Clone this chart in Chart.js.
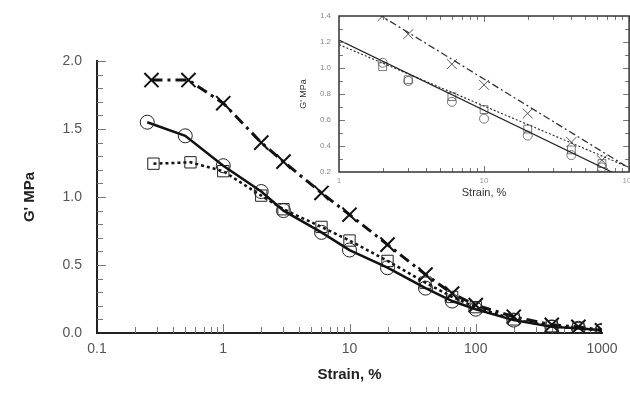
<!DOCTYPE html>
<html><head><meta charset="utf-8">
<script src="https://cdn.jsdelivr.net/npm/chart.js@4/dist/chart.umd.min.js"></script>
<style>
html,body{margin:0;padding:0;background:#fff;}
#wrap{position:relative;width:630px;height:396px;overflow:hidden;}
#main{position:absolute;left:0;top:0;}
#inset{position:absolute;left:290px;top:0;}
</style></head><body>
<div id="wrap">
<canvas id="main" width="630" height="396"></canvas>
<canvas id="inset" width="347" height="210"></canvas>
</div>
<script>
// ---- data ----
const strainCircle = [0.25,0.5,1,2,3,6,10,20,40,65,100,200,400,650,1000];
const gCircle      = [1.55,1.45,1.23,1.04,0.90,0.74,0.61,0.48,0.33,0.235,0.175,0.095,0.045,0.035,0.02];
const strainSquare = [0.28,0.55,1,2,3,6,10,20,40,65,100,200,400,650,1000];
const gSquare      = [1.245,1.255,1.19,1.01,0.91,0.78,0.68,0.53,0.37,0.265,0.19,0.10,0.05,0.035,0.02];
const strainCross  = [0.27,0.53,1,2,3,6,10,20,40,65,100,200,400,650,1000];
const gCross       = [1.86,1.86,1.69,1.40,1.26,1.03,0.87,0.65,0.43,0.29,0.205,0.12,0.06,0.045,0.02];
const xTickValues  = [0.1,1,10,100,1000];
const yTickValues  = [0,0.5,1.0,1.5,2.0];
// inset (linear fits vs log strain)
const insetXTicks  = [1,10,100];
const insetYTicks  = [0.2,0.4,0.6,0.8,1.0,1.2,1.4];
const fitStrain    = [1,100];
const fitCircle    = [1.215,0.135];
const fitSquare    = [1.18,0.235];
const fitCross     = [1.60,0.23];

const FONT = "'Liberation Sans', Arial, sans-serif";
Chart.defaults.font.family = FONT;
const pts = (xs, ys) => xs.map((x,i)=>({x:x, y:ys[i]}));

const mainTicks = {
  id:'mainTicks',
  beforeDatasetsDraw(chart){
    const {ctx, scales:{x,y}, chartArea:a} = chart;
    ctx.save(); ctx.strokeStyle='#777'; ctx.lineWidth=1; ctx.beginPath();
    for (let i=1;i<=20;i++){
      const py=Math.round(y.getPixelForValue(i/10))+0.5;
      const len=(i%5===0)?9:6;
      ctx.moveTo(a.left, py); ctx.lineTo(a.left+len, py);
    }
    for (let d=-1; d<3; d++){
      for (let m=1;m<=9;m++){
        const v=m*Math.pow(10,d);
        if (v<=0.1) continue;
        const px=Math.round(x.getPixelForValue(v))+0.5;
        const len=m===1?9:6;
        ctx.moveTo(px,a.bottom); ctx.lineTo(px,a.bottom-len);
      }
    }
    ctx.stroke(); ctx.restore();
  }
};

new Chart(document.getElementById('main'), {
  type:'line',
  data:{datasets:[
    {data:pts(strainCircle,gCircle), borderColor:'#111', borderWidth:2.5, tension:0,
     pointStyle:'circle', pointRadius:7, pointBorderWidth:1, pointBorderColor:'#222', pointBackgroundColor:'rgba(0,0,0,0)'},
    {data:pts(strainSquare,gSquare), borderColor:'#111', borderWidth:2.5, borderDash:[3,3], tension:0,
     pointStyle:'rect', pointRadius:8, pointBorderWidth:1, pointBorderColor:'#222', pointBackgroundColor:'rgba(0,0,0,0)'},
    {data:pts(strainCross,gCross), borderColor:'#111', borderWidth:3, borderDash:[11,5,3,5], tension:0,
     pointStyle:'crossRot', pointRadius:10, pointBorderWidth:2, pointBorderColor:'#111'}
  ]},
  options:{
    responsive:false, animation:false,
    layout:{padding:{top:61,right:28,left:0,bottom:0}},
    plugins:{legend:{display:false}, tooltip:{enabled:false}},
    scales:{
      x:{type:'logarithmic', min:0.1, max:1000,
         afterBuildTicks:s=>{s.ticks=xTickValues.map(v=>({value:v}));},
         afterFit:s=>{s.height=63;},
         grid:{display:false, drawTicks:false},
         border:{display:true, color:'#222', width:2},
         ticks:{callback:v=>String(v), autoSkip:false, maxRotation:0, padding:8, color:'#555', font:{size:14}},
         title:{display:true, text:'Strain, %', color:'#222', font:{size:15, weight:'bold'}, padding:{top:0,bottom:12}}},
      y:{min:0, max:2,
         afterBuildTicks:s=>{s.ticks=yTickValues.map(v=>({value:v}));},
         afterFit:s=>{s.width=97;},
         grid:{display:false, drawTicks:false},
         border:{display:true, color:'#222', width:2},
         ticks:{callback:v=>Number(v).toFixed(1), padding:15, color:'#555', font:{size:14}},
         title:{display:true, text:"G' MPa", color:'#222', font:{size:15, weight:'bold'}, padding:{top:21,bottom:0}}}
    }
  },
  plugins:[mainTicks]
});

const insetDeco = {
  id:'insetDeco',
  beforeDraw(chart){
    const {ctx, chartArea:a} = chart;
    ctx.save(); ctx.fillStyle='#fff'; ctx.fillRect(a.left,a.top,a.right-a.left,a.bottom-a.top); ctx.restore();
  },
  afterDraw(chart){
    const {ctx, scales:{x,y}, chartArea:a} = chart;
    ctx.save();
    ctx.strokeStyle='#777'; ctx.lineWidth=1; ctx.beginPath();
    for (let i=3;i<=13;i++){
      const py=Math.round(y.getPixelForValue(i/10))+0.5;
      const len=(i%2===0)?6:4;
      ctx.moveTo(a.left,py); ctx.lineTo(a.left+len,py);
      ctx.moveTo(a.right,py); ctx.lineTo(a.right-len,py);
    }
    for (let d=0; d<2; d++){
      for (let m=2;m<=10;m++){
        const v=m*Math.pow(10,d);
        const px=Math.round(x.getPixelForValue(v))+0.5;
        const len=m===10?6:4;
        ctx.moveTo(px,a.bottom); ctx.lineTo(px,a.bottom-len);
        ctx.moveTo(px,a.top); ctx.lineTo(px,a.top+len);
      }
    }
    ctx.stroke();
    ctx.strokeStyle='#333'; ctx.lineWidth=1.5;
    ctx.strokeRect(a.left,a.top,a.right-a.left,a.bottom-a.top);
    ctx.restore();
  }
};

const inRange = p => p.x>1.5 && p.x<=70;
new Chart(document.getElementById('inset'), {
  type:'line',
  data:{datasets:[
    {data:pts(fitStrain,fitCircle), borderColor:'#222', borderWidth:1.2, pointRadius:0},
    {data:pts(fitStrain,fitSquare), borderColor:'#333', borderWidth:1.2, borderDash:[2,2], pointRadius:0},
    {data:pts(fitStrain,fitCross), borderColor:'#333', borderWidth:1.3, borderDash:[7,3,2,3], pointRadius:0},
    {data:pts(strainCircle,gCircle).filter(inRange), showLine:false, pointStyle:'circle', pointRadius:4.5, pointBorderWidth:0.8, pointBorderColor:'#555', pointBackgroundColor:'rgba(0,0,0,0)'},
    {data:pts(strainSquare,gSquare).filter(inRange), showLine:false, pointStyle:'rect', pointRadius:5.5, pointBorderWidth:0.8, pointBorderColor:'#555', pointBackgroundColor:'rgba(0,0,0,0)'},
    {data:pts(strainCross,gCross).filter(inRange), showLine:false, pointStyle:'crossRot', pointRadius:7, pointBorderWidth:0.9, pointBorderColor:'#444'}
  ]},
  options:{
    responsive:false, animation:false,
    layout:{padding:{top:16,right:1,left:0,bottom:0}},
    plugins:{legend:{display:false}, tooltip:{enabled:false}},
    scales:{
      x:{type:'logarithmic', min:1, max:100,
         afterBuildTicks:s=>{s.ticks=insetXTicks.map(v=>({value:v}));},
         afterFit:s=>{s.height=38; s.paddingLeft=0; s.paddingRight=0;},
         grid:{display:false, drawTicks:false},
         border:{display:false},
         ticks:{callback:v=>String(v), autoSkip:false, maxRotation:0, padding:4, color:'#999', font:{size:8}},
         title:{display:true, text:'Strain, %', color:'#333', font:{size:11}, padding:{top:0,bottom:10}}},
      y:{min:0.2, max:1.4,
         afterBuildTicks:s=>{s.ticks=insetYTicks.map(v=>({value:v}));},
         afterFit:s=>{s.width=49; s.paddingTop=0; s.paddingBottom=0;},
         grid:{display:false, drawTicks:false},
         border:{display:false},
         ticks:{callback:v=>Number(v).toFixed(1), padding:8, color:'#888', font:{size:8}},
         title:{display:true, text:"G' MPa", color:'#333', font:{size:9}, padding:{top:8,bottom:0}}}
    }
  },
  plugins:[insetDeco]
});
</script>
</body></html>
